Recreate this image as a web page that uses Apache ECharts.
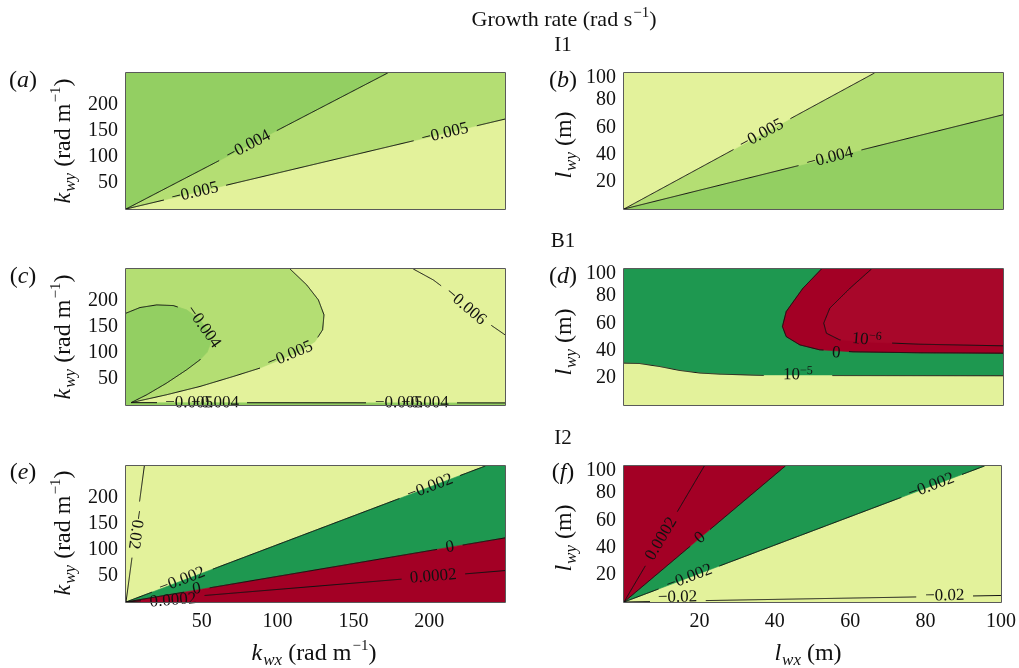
<!DOCTYPE html>
<html>
<head>
<meta charset="utf-8">
<script src="https://cdn.jsdelivr.net/npm/echarts@6/dist/echarts.min.js"></script>
<style>
  html, body { margin: 0; padding: 0; background: #fff; }
  #chart { width: 1019px; height: 668px; }
</style>
</head>
<body>
<div id="chart"></div>
<script>
// Growth-rate contours (rad s^-1) for cases I1, B1 and I2.
// Left column: wavenumber plane (k_wx, k_wy); right column: wavelength plane (l_wx, l_wy).

const K_MAX_X = 250, K_MAX_Y = 261, L_MAX = 100;
const kTicks = [50, 100, 150, 200];
const lTicks = [20, 40, 60, 80, 100];

// ---- contour curves, [x, y] in axis units ----
// (a) I1, k-plane
const a_m004 = [[0, 0], [172.6, 261]];
const a_m005 = [[0, 0], [250, 172.6]];
// (b) I1, l-plane
const b_m005 = [[0, 0], [66.1, 100]];
const b_m004 = [[0, 0], [100, 69.3]];
// (c) B1, k-plane
const c_m004 = [[0, 176.2], [9.2, 187], [20.3, 192.1], [31.2, 190.8], [40, 182.6], [48.8, 163.4],
  [55, 137.9], [55.9, 118.8], [53.6, 101.5], [48.8, 86.8], [40, 67.6], [26.8, 42.1], [13.7, 19.7], [3.3, 4.5]];
const c_m005 = [[108.2, 261], [119.2, 230.5], [126.9, 201.7], [130.6, 173], [129.7, 144.3], [124.7, 121.8],
  [114.8, 102.7], [101.6, 86.8], [88.4, 70.9], [70.8, 54.8], [48.8, 35.6], [26.8, 19.7], [3.3, 4.5]];
const c_m006 = [[189.5, 261], [202.7, 240], [220.3, 201.7], [235.7, 163.4], [250, 134.7]];
const c_base = [[3.3, 4.5], [250, 4]];
// (d) B1, l-plane
const d_p1e5 = [[0, 30.8], [4.1, 30.5], [9.4, 28.3], [14.7, 25.4], [20, 23.5], [25.2, 22.7], [37.1, 21.7], [100, 21.5]];
const d_zero = [[52.1, 100], [47.2, 85.8], [42.8, 68.7], [41.8, 57.7], [42.8, 50.3], [46.4, 44.2],
  [51.6, 40.6], [60.4, 39.1], [78, 38.4], [100, 38.1]];
const d_p1e6 = [[65.3, 100], [59.6, 85.8], [54.3, 71.2], [52.7, 60.2], [53.4, 52.8], [56.9, 47.9],
  [64.8, 46.2], [78, 44.7], [100, 43.5]];
// (e) I2, k-plane
const e_m02 = [[0, 0], [12.1, 261]];
const e_m002 = [[0, 0], [237, 261]];
const e_zero = [[0, 0], [250, 123]];
const e_p0002 = [[0, 0], [250, 60.3]];
// (f) I2, l-plane
const f_p0002 = [[0, 0], [21.3, 100]];
const f_zero = [[0, 0], [42.8, 100]];
const f_m002 = [[0, 0], [95.6, 100]];
const f_m02 = [[0, 0], [100, 4.8]];

// ---- contour labels: level text placed on its curve ----
const a_labels = [
  { line: a_m004, at: [80.7, 122], text: '−0.004' },
  { line: a_m005, at: [45.5, 31.4], text: '−0.005' },
  { line: a_m005, at: [210.4, 145.2], text: '−0.005' }
];
const b_labels = [
  { line: b_m005, at: [36.3, 54.9], text: '−0.005' },
  { line: b_m004, at: [54.3, 37.6], text: '−0.004' }
];
const c_labels = [
  { line: c_m004, at: [51, 150], text: '−0.004' },
  { line: c_m005, at: [108.2, 96.4], text: '−0.005' },
  { line: c_m006, at: [224, 189], text: '−0.006' },
  { line: c_base, at: [41.6, 4.3], text: '−0.005' },
  { line: c_base, at: [58.7, 4.3], text: '−0.004' },
  { line: c_base, at: [180, 4.1], text: '−0.005' },
  { line: c_base, at: [197.2, 4.1], text: '−0.004' }
];
const d_labels = [
  { line: d_p1e6, at: [64, 48], text: '10{s|−6}' },
  { line: d_zero, at: [56, 38.3], text: '0' },
  { line: d_p1e5, at: [45.9, 22.2], text: '10{s|−5}', gap: 34 }
];
const e_labels = [
  { line: e_m02, at: [6.5, 139], text: '−0.02', flip: true },
  { line: e_m002, at: [200.5, 220.8], text: '−0.002' },
  { line: e_m002, at: [37, 42], text: '−0.002' },
  { line: e_zero, at: [213.7, 105.2], text: '0' },
  { line: e_zero, at: [46.6, 25], text: '0' },
  { line: e_p0002, at: [202.7, 49], text: '0.0002' },
  { line: e_p0002, at: [31, 3], text: '0.0002' }
];
const f_labels = [
  { line: f_p0002, at: [9.9, 46.5], text: '0.0002' },
  { line: f_zero, at: [20.2, 47.2], text: '0' },
  { line: f_m002, at: [17.3, 18.1], text: '−0.002' },
  { line: f_m002, at: [81.5, 85.3], text: '−0.002' },
  { line: f_m02, at: [14.2, 3.5], text: '−0.02' },
  { line: f_m02, at: [85.1, 4.6], text: '−0.02' }
];

// ---- styling ----
const SERIF = '"Liberation Serif", "Times New Roman", "DejaVu Serif", serif';
const INK = '#111';
const LABEL_SIZE = 17;
const TICK_SIZE = 20;
const COL = {
  g3: '#93cf62', g2: '#b4de73', g1: '#e3f29b',
  dg: '#1e9850', r1: '#a30025', r2: '#a8072a'
};

const rev = a => a.slice().reverse();
const KX = K_MAX_X, KY = K_MAX_Y, L = L_MAX;

// filled bands, drawn in order (later ones on top)
const panels = [
  { grid: 0, kind: 'k', showX: false, labels: a_labels, lines: [a_m004, a_m005],
    regions: [
      { color: COL.g1, pts: [[0, 0], [KX, 0], [KX, KY], [0, KY]] },
      { color: COL.g2, pts: [...a_m005, [KX, KY], [0, KY]] },
      { color: COL.g3, pts: [...a_m004, [0, KY]] }
    ] },
  { grid: 1, kind: 'l', showX: false, labels: b_labels, lines: [b_m005, b_m004],
    regions: [
      { color: COL.g3, pts: [[0, 0], [L, 0], [L, L], [0, L]] },
      { color: COL.g2, pts: [...b_m004, [L, L], [0, L]] },
      { color: COL.g1, pts: [...b_m005, [0, L]] }
    ] },
  { grid: 2, kind: 'k', showX: false, labels: c_labels, lines: [c_m004, c_m005, c_m006, c_base],
    regions: [
      { color: COL.g1, pts: [[0, 0], [KX, 0], [KX, KY], [0, KY]] },
      { color: COL.g2, pts: [...c_m005, [0, 4.5], [0, KY]] },
      { color: COL.g3, pts: [...c_m004, [0, 4.5]] },
      { color: COL.g3, pts: [[0, 4.5], ...c_base, [KX, 0], [0, 0]] }
    ] },
  { grid: 3, kind: 'l', showX: false, labels: d_labels, lines: [d_p1e5, d_zero, d_p1e6],
    regions: [
      { color: COL.dg, pts: [[0, 0], [L, 0], [L, L], [0, L]] },
      { color: COL.g1, pts: [...d_p1e5, [L, 0], [0, 0]] },
      { color: COL.r1, pts: [...d_zero, [L, L]] },
      { color: COL.r2, pts: [...d_p1e6, [L, L]] }
    ] },
  { grid: 4, kind: 'k', showX: true, labels: e_labels, lines: [e_m02, e_m002, e_zero, e_p0002],
    regions: [
      { color: COL.g1, pts: [[0, 0], [KX, 0], [KX, KY], [0, KY]] },
      { color: COL.dg, pts: [...e_m002, [KX, KY], ...rev(e_zero)] },
      { color: COL.r1, pts: [...e_zero, [KX, 0]] }
    ] },
  { grid: 5, kind: 'l', showX: true, labels: f_labels, lines: [f_p0002, f_zero, f_m002, f_m02],
    regions: [
      { color: COL.g1, pts: [[0, 0], [L, 0], [L, L], [0, L]] },
      { color: COL.dg, pts: [...f_m002, ...rev(f_zero)] },
      { color: COL.r1, pts: [...f_zero, [0, L]] }
    ] }
];

const GRIDS = [
  { left: 126, top: 73 }, { left: 624, top: 73 },
  { left: 126, top: 269 }, { left: 624, top: 269 },
  { left: 126, top: 466 }, { left: 624, top: 466 }
].map(g => Object.assign({ width: 379, height: 136, containLabel: false }, g));

// ---- helpers ----
const measureCtx = document.createElement('canvas').getContext('2d');
const plainText = t => t.replace(/\{\w+\|([^}]*)\}/g, '$1');
function textWidth(t) {
  measureCtx.font = LABEL_SIZE + 'px ' + SERIF;
  return measureCtx.measureText(plainText(t)).width;
}
const dist = (p, q) => Math.hypot(p[0] - q[0], p[1] - q[1]);
function segDist(p, a, b) {
  const dx = b[0] - a[0], dy = b[1] - a[1];
  const l2 = dx * dx + dy * dy || 1;
  let t = ((p[0] - a[0]) * dx + (p[1] - a[1]) * dy) / l2;
  t = Math.max(0, Math.min(1, t));
  return dist(p, [a[0] + t * dx, a[1] + t * dy]);
}
const labelRich = {
  s: { fontFamily: SERIF, fontSize: 12, fill: INK, verticalAlign: 'top', padding: [0, 0, 8, 0] }
};

function regionSeries(p) {
  return {
    type: 'custom', xAxisIndex: p.grid, yAxisIndex: p.grid, z: 1, clip: true, silent: true,
    data: p.regions.map((r, i) => [i, 0]),
    renderItem: (params, api) => {
      const r = p.regions[params.dataIndex];
      return {
        type: 'polygon',
        shape: { points: r.pts.map(pt => api.coord(pt)) },
        style: { fill: r.color, stroke: r.color, lineWidth: 0.6 }
      };
    }
  };
}

// contour lines, broken where a level label sits on them
function lineSeries(p) {
  return {
    type: 'custom', xAxisIndex: p.grid, yAxisIndex: p.grid, z: 3, clip: true, silent: true,
    data: p.lines.map((l, i) => [i, 0]),
    renderItem: (params, api) => {
      const curve = p.lines[params.dataIndex];
      const px = curve.map(pt => api.coord(pt));
      const holes = p.labels.filter(lb => lb.line === curve).map(lb => ({
        c: api.coord(lb.at), r: lb.gap || (textWidth(lb.text) / 2 + 8)
      }));
      const parts = [];
      let cur = [];
      for (let k = 0; k < px.length - 1; k++) {
        const a = px[k], b = px[k + 1];
        const n = Math.max(1, Math.ceil(dist(a, b)));
        for (let j = (k === 0 ? 0 : 1); j <= n; j++) {
          const t = j / n;
          const q = [a[0] + (b[0] - a[0]) * t, a[1] + (b[1] - a[1]) * t];
          if (holes.some(h => dist(q, h.c) < h.r)) {
            if (cur.length > 1) parts.push(cur);
            cur = [];
          } else {
            cur.push(q);
          }
        }
      }
      if (cur.length > 1) parts.push(cur);
      return {
        type: 'group',
        children: parts.map(pts => ({
          type: 'polyline', shape: { points: pts },
          style: { stroke: INK, lineWidth: 1, fill: 'none' }
        }))
      };
    }
  };
}

function labelSeries(p) {
  return {
    type: 'custom', xAxisIndex: p.grid, yAxisIndex: p.grid, z: 4, clip: false, silent: true,
    data: p.labels.map((l, i) => [i, 0]),
    renderItem: (params, api) => {
      const lb = p.labels[params.dataIndex];
      const c = api.coord(lb.at);
      const px = lb.line.map(pt => api.coord(pt));
      let best = Infinity, ang = 0;
      for (let k = 0; k < px.length - 1; k++) {
        const d = segDist(c, px[k], px[k + 1]);
        if (d < best) {
          best = d;
          ang = Math.atan2(-(px[k + 1][1] - px[k][1]), px[k + 1][0] - px[k][0]);
        }
      }
      if (ang > Math.PI / 2) ang -= Math.PI;
      if (ang < -Math.PI / 2) ang += Math.PI;
      if (lb.flip) ang -= Math.PI;
      return {
        type: 'text', x: c[0], y: c[1], rotation: ang,
        style: {
          text: lb.text, fontFamily: SERIF, fontSize: LABEL_SIZE, fill: INK,
          align: 'center', verticalAlign: 'middle', rich: labelRich
        }
      };
    }
  };
}

function frameSeries(p) {
  return {
    type: 'custom', xAxisIndex: p.grid, yAxisIndex: p.grid, z: 6, clip: false, silent: true,
    data: [[0, 0]],
    renderItem: (params) => {
      const cs = params.coordSys;
      return {
        type: 'rect',
        shape: { x: cs.x - 0.5, y: cs.y - 0.5, width: cs.width + 1, height: cs.height + 1 },
        style: { fill: 'none', stroke: '#5a5a5a', lineWidth: 1 }
      };
    }
  };
}

const tickRich = {
  n: { fontFamily: SERIF, fontSize: TICK_SIZE, color: INK },
  top: { fontFamily: SERIF, fontSize: TICK_SIZE, color: INK, padding: [10, 0, 0, 0] }
};

function xAxisFor(p) {
  const k = p.kind === 'k';
  const list = k ? kTicks : lTicks;
  return {
    type: 'value', gridIndex: p.grid, min: 0, max: k ? K_MAX_X : L_MAX, interval: k ? 50 : 20,
    axisLine: { show: false }, splitLine: { show: false },
    axisTick: { show: true, inside: true, length: 4, lineStyle: { color: '#a0a0a0', width: 1 } },
    axisLabel: {
      show: p.showX, margin: 10, fontFamily: SERIF, fontSize: TICK_SIZE, color: INK,
      showMinLabel: true, showMaxLabel: true,
      formatter: v => list.includes(v) ? '{n|' + v + '}' : '',
      rich: tickRich
    }
  };
}

function yAxisFor(p) {
  const k = p.kind === 'k';
  const list = k ? kTicks : lTicks;
  return {
    type: 'value', gridIndex: p.grid, min: 0, max: k ? K_MAX_Y : L_MAX, interval: k ? 50 : 20,
    axisLine: { show: false }, splitLine: { show: false }, axisTick: { show: false },
    axisLabel: {
      margin: 8, fontFamily: SERIF, fontSize: TICK_SIZE, color: INK,
      showMinLabel: true, showMaxLabel: true,
      formatter: v => {
        if (!list.includes(v)) return '';
        return (!k && v === L_MAX) ? '{top|' + v + '}' : '{n|' + v + '}';
      },
      rich: tickRich
    }
  };
}

// ---- free text: heading, case names, panel tags, axis names ----
const nameRich = {
  i: { fontFamily: SERIF, fontSize: 24, fontStyle: 'italic', fill: INK },
  s: { fontFamily: SERIF, fontSize: 17, fontStyle: 'italic', fill: INK, verticalAlign: 'bottom', padding: [14, 0, 0, 1] },
  p: { fontFamily: SERIF, fontSize: 15, fill: INK, verticalAlign: 'top', padding: [0, 0, 13, 1] }
};
function txt(x, y, text, size, extra) {
  return Object.assign({
    type: 'text', x, y, silent: true,
    style: {
      text, fontFamily: SERIF, fontSize: size, fill: INK,
      align: 'center', verticalAlign: 'middle', rich: nameRich
    }
  }, extra || {});
}
const caseNames = ['I1', 'B1', 'I2'];
const tags = ['a', 'b', 'c', 'd', 'e', 'f'];
const graphics = [
  txt(564, 20, 'Growth rate (rad s{p|−1})', 22),
  txt(563, 45, caseNames[0], 21),
  txt(563, 241, caseNames[1], 21),
  txt(563, 438, caseNames[2], 21)
];
const tagPos = [[23, 81], [563, 81], [23, 277], [563, 277], [23, 473], [563, 473]];
tags.forEach((t, i) => graphics.push(txt(tagPos[i][0], tagPos[i][1], '({i|' + t + '})', 24)));
[[64, 141], [64, 337], [64, 533]].forEach(c =>
  graphics.push(txt(c[0], c[1], '{i|k}{s|wy} (rad m{p|−1})', 24, { rotation: Math.PI / 2 })));
[[565, 145], [565, 342], [565, 538]].forEach(c =>
  graphics.push(txt(c[0], c[1], '{i|l}{s|wy} (m)', 24, { rotation: Math.PI / 2 })));
graphics.push(txt(314, 654, '{i|k}{s|wx} (rad m{p|−1})', 24));
graphics.push(txt(808, 654, '{i|l}{s|wx} (m)', 24));

const series = [];
panels.forEach(p => {
  series.push(regionSeries(p), lineSeries(p), labelSeries(p), frameSeries(p));
});

const chart = echarts.init(document.getElementById('chart'), null, { renderer: 'canvas' });
chart.setOption({
  animation: false,
  backgroundColor: '#fff',
  grid: GRIDS,
  xAxis: panels.map(xAxisFor),
  yAxis: panels.map(yAxisFor),
  series,
  graphic: graphics
});
</script>
</body>
</html>
